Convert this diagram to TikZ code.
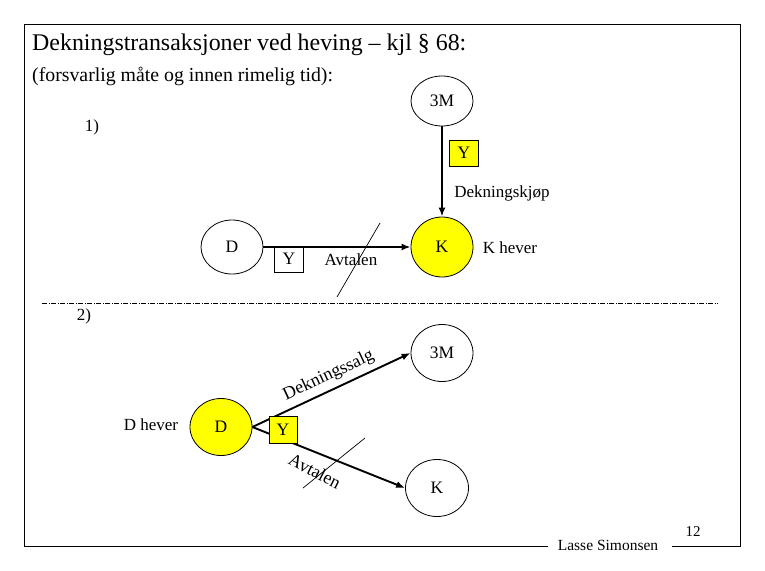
\documentclass[tikz,border=0pt]{standalone}
\usepackage{fontspec}
\setmainfont{Liberation Serif}
\usetikzlibrary{shapes.geometric,arrows.meta}
\definecolor{hl}{RGB}{255,255,0}
\tikzset{
  party/.style={ellipse, draw, line width=0.8pt, inner sep=0pt, font=\fontsize{17.5}{17.5}\selectfont},
  hlparty/.style={party, fill=hl},
  goods/.style={rectangle, draw, line width=0.8pt, minimum width=29pt, minimum height=26pt, inner sep=0pt, font=\fontsize{17.5}{17.5}\selectfont},
  hlgoods/.style={goods, fill=hl},
  lbl/.style={inner sep=0pt, font=\fontsize{17}{17}\selectfont},
  flow/.style={line width=1.9pt, -{Latex[length=9pt,width=7pt]}},
  cut/.style={line width=0.7pt},
  sep/.style={line width=0.9pt, dash pattern=on 5pt off 1.5pt on 1pt off 1.5pt},
  frame/.style={line width=1pt}
}
\begin{document}
\begin{tikzpicture}[x=1pt,y=-1pt]
\useasboundingbox (0,0) rectangle (765,570);
% title
\node[anchor=west, inner sep=0pt, font=\fontsize{23.9}{24}\selectfont] (title) at (32,45) {Dekningstransaksjoner ved heving – kjl § 68:};
\node[anchor=west, inner sep=0pt, font=\fontsize{19.8}{20}\selectfont] (sub) at (32,76) {(forsvarlig måte og innen rimelig tid):};
\node[lbl] (one) at (92,127) {1)};
% part 1
\node[party, minimum width=62pt, minimum height=50pt] (m1) at (442,101) {3M};
\node[hlparty, minimum width=62pt, minimum height=60pt] (k1) at (442,247) {K};
\node[party, minimum width=62pt, minimum height=54pt] (d1) at (232,247) {D};
\draw[flow] (m1.south) -- (k1.north);
\draw[flow] (d1.east) -- (k1.west);
\node[hlgoods] (y1) at (464,153) {Y};
\node[lbl] (dk) at (502,193) {Dekningskjøp};
\node[goods] (y0) at (289,259) {Y};
\node[lbl] (av1) at (351,260) {Avtalen};
\coordinate (c1a) at (337,297);
\coordinate (c1b) at (380,223);
\draw[cut] (c1a) -- (c1b);
\node[lbl] (kh) at (510,248) {K hever};
% separator
\coordinate (s1) at (42,303);
\coordinate (s2) at (718,303);
\draw[sep] (s1) -- (s2);
\node[lbl] (two) at (84,316) {2)};
% part 2
\node[party, minimum width=62pt, minimum height=57pt] (m2) at (442,353) {3M};
\node[party, minimum width=63pt, minimum height=57pt] (k2) at (437,488) {K};
\node[hlparty, minimum width=62pt, minimum height=57pt] (d2) at (221,427) {D};
\node[lbl] (dh) at (151,425) {D hever};
\draw[flow] (d2.east) -- node[lbl, pos=0.52, above=5pt, sloped, font=\fontsize{18}{18}\selectfont] (ds) {Dekningssalg} (m2.west);
\draw[flow] (d2.east) -- (k2.west);
\node[hlgoods, minimum width=28pt, minimum height=27pt] (y2) at (283,430) {Y};
\node[lbl, rotate=-27, font=\fontsize{18}{18}\selectfont] (av2) at (315,471) {Avtalen};
\coordinate (c2a) at (303,488);
\coordinate (c2b) at (365,438);
\draw[cut] (c2a) -- (c2b);
% frame
\node[inner sep=0pt, font=\fontsize{15.5}{15.5}\selectfont] (author) at (608,545) {Lasse Simonsen};
\node[inner sep=0pt, font=\fontsize{15}{15}\selectfont] (page) at (693,532) {12};
\coordinate (fl) at (548,546);
\coordinate (fr) at (672,546);
\draw[frame] (fl) -- (24,546) -- (24,24) -- (740,24) -- (740,546) -- (fr);
\end{tikzpicture}
\end{document}
